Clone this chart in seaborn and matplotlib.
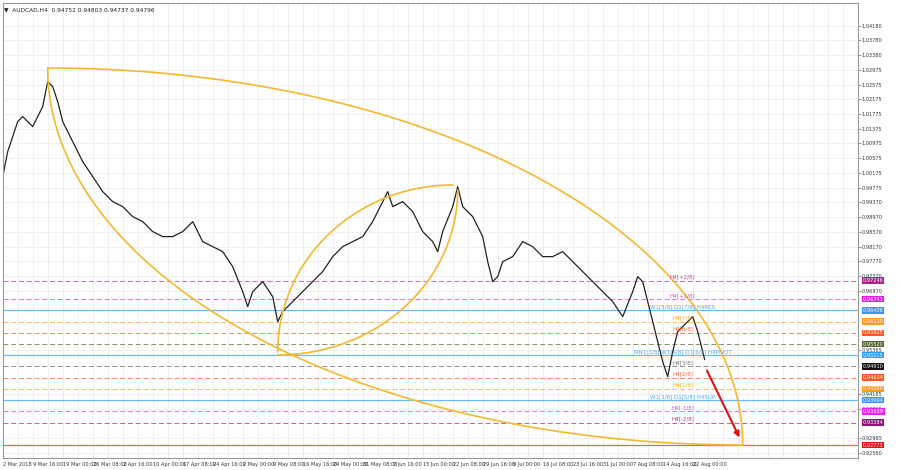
import numpy as np
import matplotlib
matplotlib.use("Agg")
import matplotlib.pyplot as plt
import seaborn as sns
import pandas as pd

# AUDCAD H4 - closes (bar position, price)
bar_pos = [0, 5, 15, 20, 30, 40, 45, 50, 55, 60, 70, 80, 90, 100, 110, 120, 130, 140, 150,
           160, 170, 180, 190, 195, 200, 210, 220, 230, 240, 245, 250, 260, 270, 275, 280,
           290, 300, 310, 320, 330, 340, 350, 360, 370, 380, 385, 390, 400, 410, 420, 430,
           435, 440, 450, 455, 460, 470, 480, 485, 490, 495, 500, 510, 520, 530, 540, 550,
           560, 570, 580, 590, 600, 610, 620, 630, 635, 640, 645, 650, 655, 660, 665, 670,
           675, 680, 685, 690, 695, 700, 702]
close = [1.00073, 1.00753, 1.01569, 1.01705, 1.01433, 1.01977, 1.02657, 1.02521, 1.02113,
         1.01569, 1.01025, 1.00481, 1.00073, 0.99665, 0.99393, 0.99257, 0.98985, 0.98849,
         0.98577, 0.98441, 0.98441, 0.98577, 0.98849, 0.98577, 0.98305, 0.98169, 0.98033,
         0.97625, 0.96945, 0.96537, 0.96945, 0.97217, 0.96809, 0.96129, 0.96401, 0.96673,
         0.96945, 0.97217, 0.97489, 0.97897, 0.98169, 0.98305, 0.98441, 0.98849, 0.99393,
         0.99665, 0.99257, 0.99393, 0.99121, 0.98577, 0.98305, 0.98033, 0.98577, 0.99257,
         0.99801, 0.99257, 0.98985, 0.98441, 0.97761, 0.97217, 0.97353, 0.97761, 0.97897,
         0.98305, 0.98169, 0.97897, 0.97897, 0.98033, 0.97761, 0.97489, 0.97217, 0.96945,
         0.96673, 0.96265, 0.96945, 0.97353, 0.97217, 0.96673, 0.96129, 0.95585, 0.95041,
         0.94633, 0.95313, 0.95857, 0.95993, 0.96129, 0.96265, 0.95857, 0.95313, 0.95095]

# Murrey math levels
level_price = [0.97246, 0.96741, 0.96436, 0.96130, 0.95825, 0.95520, 0.95215, 0.94910,
               0.94604, 0.94299, 0.93994, 0.93689, 0.93384, 0.92773]
level_text = ["H4[+2/8]", "H4[+1/8]", "W1[5/8] D1[7/8] H4RES", "H4[7/8]", "H4[6/8]", "",
              "MN1[3/8] W1[4/8] D1[6/8] H4PIVOT", "H4[3/8]", "H4[2/8]", "H4[1/8]",
              "W1[1/8] D1[5/8] H4SUP", "H4[-1/8]", "H4[-2/8]", ""]
level_color = ["#cc44aa", "#ee44ee", "#44aaff", "#ffaa33", "#ff6633", "#667744", "#44aaff",
               "#777777", "#ff6633", "#ffaa33", "#44aaff", "#ee44ee", "#bb3399", "#ff3333"]
label_color = ["#aa2288", "#dd22dd", "#3399ff", "#ff9922", "#ff5522", "#556633", "#3399ff",
               "#111111", "#ff5522", "#ff9922", "#3399ff", "#ee22ee", "#991177", "#ee1111"]
level_solid = [False, False, True, False, False, False, True, False, False, False, True,
               False, False, True]

ytick_vals = [1.04180, 1.03780, 1.03380, 1.02975, 1.02575, 1.02175, 1.01775, 1.01375,
              1.00975, 1.00575, 1.00175, 0.99775, 0.99370, 0.98970, 0.98570, 0.98170,
              0.97770, 0.97370, 0.96970, 0.95365, 0.94165, 0.93765, 0.92965, 0.92560]
xtick_labels = ["2 Mar 2018", "9 Mar 16:00", "19 Mar 00:00", "26 Mar 08:00", "2 Apr 16:00",
                "10 Apr 00:00", "17 Apr 08:00", "24 Apr 16:00", "2 May 00:00", "9 May 08:00",
                "16 May 16:00", "24 May 00:00", "31 May 08:00", "7 Jun 16:00", "15 Jun 00:00",
                "22 Jun 08:00", "29 Jun 16:00", "9 Jul 00:00", "16 Jul 08:00", "23 Jul 16:00",
                "31 Jul 00:00", "7 Aug 08:00", "14 Aug 16:00", "22 Aug 00:00"]

s = 0.000272
def py(ypix):
    return 0.92773 + (445 - ypix) * s

sns.set_style("white")
plt.rcParams['font.family'] = ['DejaVu Sans']
fig = plt.figure(figsize=(9, 4.7), dpi=100)
ax = fig.add_axes([0.003, 12 / 470, 855 / 900, 1 - 15 / 470])
ax.set_xlim(0, 855)
ax.set_ylim(py(458), py(3))

xt = np.arange(len(xtick_labels)) * 30
ax.set_xticks(xt)
ax.set_xticklabels(xtick_labels, fontsize=3.6, ha="left", color="#333333")
ax.set_yticks(ytick_vals)
ax.set_yticklabels(["%.5f" % v for v in ytick_vals], fontsize=3.6, color="#333333")
ax.yaxis.tick_right()
ax.tick_params(length=2, pad=1, colors="#999999", labelcolor="#333333")
ax.set_xticks(np.arange(0, 860, 15), minor=True)
ax.grid(True, which="both", color="#eeeeee", lw=0.6)
for sp in ax.spines.values():
    sp.set_color("#999999")

for p, t, c, lc, solid in zip(level_price, level_text, level_color, label_color, level_solid):
    ax.axhline(p, color=c, lw=0.9 if solid else 0.7, ls="-" if solid else (0, (5, 3)), alpha=0.8)
    if t:
        ax.text(680, p + 0.0003, t, fontsize=4, color=c, ha="center", va="bottom")
    ax.text(1.006, p, "%.5f" % p, transform=ax.get_yaxis_transform(), fontsize=3.6,
            color="white", va="center", ha="left",
            bbox=dict(boxstyle="square,pad=0.15", fc=lc, ec="none"))

df = pd.DataFrame({"bar": bar_pos, "close": close})
sns.lineplot(data=df, x="bar", y="close", ax=ax, color="#222222", lw=0.9)

# Orange arcs (pixel-space ellipses)
orange = "#f5b82e"
t = np.linspace(0, np.pi / 2, 200)
ax.plot(45 + 695 * np.sin(t), py(445 - 377 * np.cos(t)), color=orange, lw=1.2)
ax.plot(740 - 695 * np.cos(t), py(68 + 377 * np.sin(t)), color=orange, lw=1.2)
ax.plot(450 - 175 * np.cos(t), py(352 - 167 * np.sin(t)), color=orange, lw=1.2)
ax.plot(275 + 180 * np.sin(t), py(190 + 165 * np.cos(t)), color=orange, lw=1.2)

ax.annotate("", xy=(738, py(440)), xytext=(703, py(368)),
            arrowprops=dict(arrowstyle="-|>", color="#dd1111", lw=1.5, mutation_scale=8))

ax.set_xlabel("")
ax.set_ylabel("")
fig.text(0.004, 0.985, "\u25bc  AUDCAD,H4  0.94752 0.94803 0.94737 0.94796", fontsize=4.2,
         va="top", color="#222222")

fig.savefig("out.png", dpi=100, facecolor="white")
